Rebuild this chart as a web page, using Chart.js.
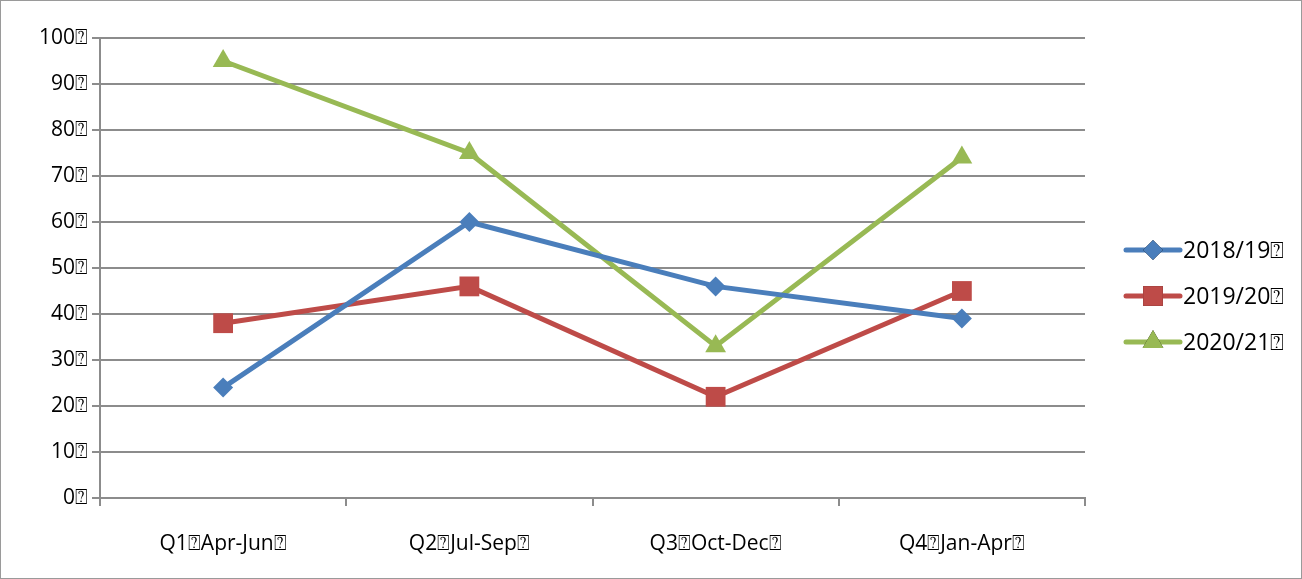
<!DOCTYPE html>
<html lang="en">
<head>
<meta charset="UTF-8">
<title>Quarterly chart</title>
<script src="https://cdn.jsdelivr.net/npm/chart.js@4.4.0/dist/chart.umd.min.js"></script>
<style>
html,body{margin:0;padding:0;background:#fff}
#box{position:relative;width:1302px;height:579px}
</style>
</head>
<body>
<div id="box"><canvas id="c"></canvas></div>
<script>
const Q = '\u2370';
const categories = ['Q1'+Q+'Apr-Jun'+Q, 'Q2'+Q+'Jul-Sep'+Q, 'Q3'+Q+'Oct-Dec'+Q, 'Q4'+Q+'Jan-Apr'+Q];
const seriesNames = ['2018/19'+Q, '2019/20'+Q, '2020/21'+Q];
const s2018 = [24, 60, 46, 39];
const s2019 = [38, 46, 22, 45];
const s2020 = [95, 75, 33, 74];
const yTicks = [0, 10, 20, 30, 40, 50, 60, 70, 80, 90, 100];

const FONT = '"Open Sans","Liberation Sans",Arial,sans-serif';
const GRID = '#8c8c8c';

/* legend: line + marker, drawn at right */
const sideLegend = {
  id:'sideLegend',
  afterDraw(chart){
    const ctx = chart.ctx;
    ctx.save();
    // outer frame
    ctx.strokeStyle = '#9a9a9a'; ctx.lineWidth = 1;
    ctx.strokeRect(0.5, 0.5, chart.width-1, chart.height-1);
    const x0 = 1126, y0 = 250, gap = 46;
    chart.data.datasets.forEach((ds,i)=>{
      const y = y0 + i*gap;
      ctx.strokeStyle = ds.borderColor; ctx.lineWidth = 5; ctx.lineCap='round';
      ctx.beginPath(); ctx.moveTo(x0, y); ctx.lineTo(x0+54, y); ctx.stroke();
      Chart.helpers.drawPoint(ctx, {pointStyle:ds.pointStyle, radius:ds.pointRadius, borderWidth:0}, x0+27, y);
      ctx.fillStyle = ds.borderColor; ctx.fill();
      ctx.fillStyle = '#000'; ctx.font = '23px '+FONT;
      ctx.textAlign='left'; ctx.textBaseline='middle';
      ctx.fillText(ds.label, x0+57, y+1);
    });
    ctx.restore();
  }
};

new Chart(document.getElementById('c'), {
  type:'line',
  data:{
    labels:categories,
    datasets:[
      {label:seriesNames[0], data:s2018, borderColor:'#4a7ebb', backgroundColor:'#4a7ebb', pointStyle:'rectRot', pointRadius:10},
      {label:seriesNames[1], data:s2019, borderColor:'#be4b48', backgroundColor:'#be4b48', pointStyle:'rect', pointRadius:14},
      {label:seriesNames[2], data:s2020, borderColor:'#98b954', backgroundColor:'#98b954', pointStyle:'triangle', pointRadius:12}
    ].map(d=>Object.assign(d,{borderWidth:5, tension:0, pointBorderWidth:0, pointHoverRadius:d.pointRadius}))
  },
  options:{
    responsive:true,
    maintainAspectRatio:false,
    animation:false,
    layout:{padding:{left:0, right:217, top:38, bottom:0}},
    plugins:{legend:{display:false}, tooltip:{enabled:false}},
    scales:{
      x:{
        offset:true,
        grid:{offset:true, drawOnChartArea:false, drawTicks:true, tickLength:8, color:GRID, lineWidth:2},
        border:{display:true, color:GRID, width:2},
        ticks:{color:'#000', font:{family:FONT, size:21}, padding:25, maxRotation:0},
        afterFit(s){ s.height = 81; }
      },
      y:{
        min:0, max:100,
        afterBuildTicks(s){ s.ticks = yTicks.map(v=>({value:v})); },
        grid:{color:GRID, lineWidth:2, tickLength:8},
        border:{display:true, color:GRID, width:2},
        ticks:{color:'#000', font:{family:FONT, size:21}, padding:4, callback:v=>v+Q},
        afterFit(s){ s.width = 100; }
      }
    }
  },
  plugins:[sideLegend]
});
</script>
</body>
</html>
